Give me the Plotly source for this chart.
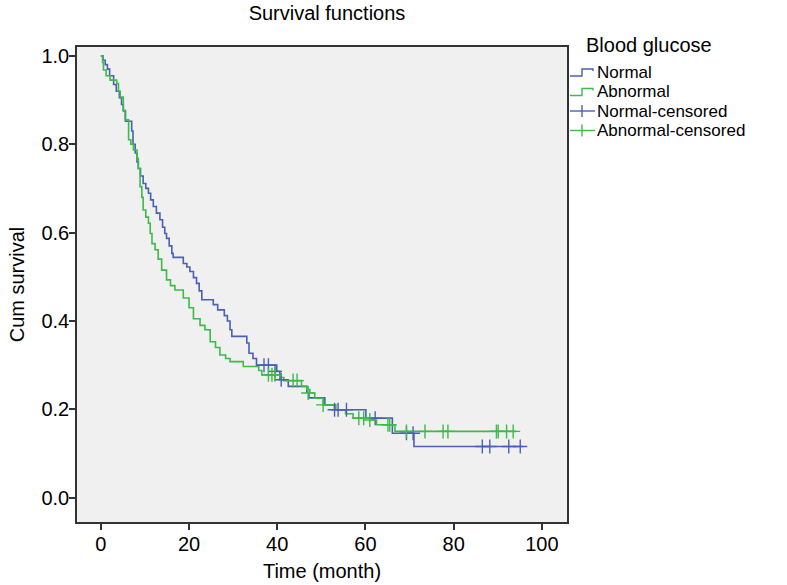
import plotly.graph_objects as go

# Kaplan-Meier step points (time in months, cumulative survival)
normal_t = [0, 0.5, 1, 1.5, 2, 2.9, 3.5, 4.2, 4.7, 5.1, 5.6, 7.0, 7.3, 7.8, 8.2, 8.5, 9.0, 9.6,
            10.2, 10.8, 11.3, 11.9, 12.6, 13.4, 14.0, 14.5, 14.9, 15.5, 16.1, 16.4, 18.7, 19.5,
            20.2, 21.0, 21.7, 22.3, 22.9, 25.5, 26.5, 28.0, 28.7, 29.3, 29.7, 33.1, 33.6, 34.5,
            35.3, 39.9, 40.6, 42.5, 46.7, 47.2, 50.8, 53.0, 60.1, 66.1, 71.0, 95.7]
normal_s = [1.0, 0.99, 0.98, 0.97, 0.955, 0.935, 0.92, 0.905, 0.89, 0.875, 0.852, 0.83, 0.80,
            0.78, 0.76, 0.745, 0.728, 0.711, 0.70, 0.689, 0.674, 0.659, 0.644, 0.629, 0.612,
            0.598, 0.587, 0.570, 0.553, 0.544, 0.530, 0.522, 0.512, 0.498, 0.485, 0.468, 0.448,
            0.437, 0.425, 0.412, 0.400, 0.38, 0.365, 0.35, 0.327, 0.315, 0.30, 0.286, 0.267,
            0.252, 0.238, 0.226, 0.21, 0.199, 0.18, 0.146, 0.116, 0.116]

abnormal_t = [0, 0.4, 0.6, 1.2, 2.1, 3.6, 4.0, 4.4, 5.1, 5.5, 6.3, 6.8, 7.4, 8.2, 8.5, 8.9, 9.3,
              9.6, 10.2, 10.8, 11.2, 11.6, 12.3, 13.0, 13.8, 14.9, 15.8, 16.8, 18.7, 20.0, 21.0,
              22.5, 23.6, 24.8, 26.0, 27.0, 28.3, 29.3, 32.3, 35.8, 36.5, 40.6, 41.5, 45.5, 46.7,
              47.4, 48.5, 50.4, 53.3, 55.5, 57.2, 61.0, 62.5, 66.7, 94.2]
abnormal_s = [1.0, 0.985, 0.968, 0.955, 0.945, 0.937, 0.92, 0.907, 0.877, 0.855, 0.81, 0.80,
              0.787, 0.768, 0.745, 0.704, 0.68, 0.651, 0.635, 0.621, 0.598, 0.575, 0.561, 0.54,
              0.515, 0.493, 0.48, 0.47, 0.452, 0.43, 0.405, 0.39, 0.38, 0.353, 0.34, 0.323,
              0.315, 0.308, 0.297, 0.288, 0.278, 0.272, 0.265, 0.252, 0.245, 0.237, 0.225, 0.21,
              0.199, 0.19, 0.18, 0.176, 0.165, 0.15, 0.15]

# Censored observations
normal_cens_t = [37.0, 38.0, 39.5, 40.9, 53.0, 53.8, 55.7, 62.2, 69.3, 70.8, 86.5, 88.2, 92.5, 95.1]
normal_cens_s = [0.30, 0.30, 0.286, 0.267, 0.199, 0.199, 0.199, 0.18, 0.146, 0.146, 0.116, 0.116,
                 0.116, 0.116]
abnormal_cens_t = [38.0, 38.8, 39.5, 43.6, 44.5, 47.0, 50.4, 58.5, 59.6, 61.0, 65.1, 65.5, 69.3,
                   73.5, 77.6, 78.7, 89.7, 90.1, 92.0, 93.5]
abnormal_cens_s = [0.278, 0.278, 0.278, 0.265, 0.265, 0.237, 0.21, 0.18, 0.18, 0.176, 0.165,
                   0.165, 0.15, 0.15, 0.15, 0.15, 0.15, 0.15, 0.15, 0.15]

x_ticks = [0, 20, 40, 60, 80, 100]
y_ticks = [0.0, 0.2, 0.4, 0.6, 0.8, 1.0]

legend_title = "Blood glucose"
legend_labels = ["Normal", "Abnormal", "Normal-censored", "Abnormal-censored"]

BLUE = "#4a60b6"
GREEN = "#3dbb48"
FONT = "Liberation Sans, Arial, sans-serif"

W, H = 787, 585
ML, MR, MT, MB = 77, 220, 47, 63
PW, PH = W - ML - MR, H - MT - MB


def px(xp):
    return (xp - ML) / PW


def py(yp):
    return (H - MB - yp) / PH


fig = go.Figure()
fig.add_trace(go.Scatter(x=normal_t, y=normal_s, mode="lines", line_shape="hv",
                         line=dict(color=BLUE, width=1.6), name=legend_labels[0]))
fig.add_trace(go.Scatter(x=abnormal_t, y=abnormal_s, mode="lines", line_shape="hv",
                         line=dict(color=GREEN, width=1.6), name=legend_labels[1]))
fig.add_trace(go.Scatter(x=normal_cens_t, y=normal_cens_s, mode="markers",
                         marker=dict(symbol="cross-thin", size=10, line=dict(color=BLUE, width=1.4)),
                         name=legend_labels[2]))
fig.add_trace(go.Scatter(x=abnormal_cens_t, y=abnormal_cens_s, mode="markers",
                         marker=dict(symbol="cross-thin", size=10, line=dict(color=GREEN, width=1.4)),
                         name=legend_labels[3]))

axis_common = dict(showline=True, linecolor="#333333", linewidth=1.5, mirror=True,
                   ticks="outside", ticklen=6, tickcolor="#333333", tickwidth=1.5,
                   showgrid=False, zeroline=False, automargin=False,
                   tickfont=dict(family=FONT, size=20, color="black"))

# Manual legend (title, entries and icons)
annotations = [dict(text=legend_title, xref="paper", yref="paper", x=px(584), y=py(45),
                    xanchor="left", yanchor="middle", showarrow=False,
                    font=dict(family=FONT, size=20, color="black"))]
shapes = []
entry_y = [72, 91.5, 111, 130.5]
colors = [BLUE, GREEN, BLUE, GREEN]
for i, (lab, yy, col) in enumerate(zip(legend_labels, entry_y, colors)):
    annotations.append(dict(text=lab, xref="paper", yref="paper", x=px(596), y=py(yy),
                            xanchor="left", yanchor="middle", showarrow=False, borderpad=0,
                            font=dict(family=FONT, size=17, color="black")))
    if i < 2:
        path = (f"M {px(570)},{py(yy + 4)} L {px(582)},{py(yy + 4)} L {px(582)},{py(yy - 3)} "
                f"L {px(593)},{py(yy - 3)} L {px(593)},{py(yy - 1)}")
        shapes.append(dict(type="path", xref="paper", yref="paper", path=path,
                           line=dict(color=col, width=1.4)))
    else:
        shapes.append(dict(type="line", xref="paper", yref="paper", x0=px(570), x1=px(595),
                           y0=py(yy), y1=py(yy), line=dict(color=col, width=1.4)))
        shapes.append(dict(type="line", xref="paper", yref="paper", x0=px(582), x1=px(582),
                           y0=py(yy - 6), y1=py(yy + 6), line=dict(color=col, width=1.4)))

fig.update_layout(
    width=W, height=H,
    margin=dict(l=ML, r=MR, t=MT, b=MB),
    paper_bgcolor="white", plot_bgcolor="#f0f0f0",
    font=dict(family=FONT, color="black"),
    showlegend=False,
    title=dict(text="Survival functions", x=327 / W, xanchor="center", xref="container",
               y=1 - 13 / H, yanchor="middle", font=dict(family=FONT, size=20, color="black")),
    xaxis=dict(range=[-5.4, 105.7], tickvals=x_ticks, ticktext=[str(v) for v in x_ticks],
               ticklabelstandoff=-3,
               title=dict(text="Time (month)", font=dict(family=FONT, size=20), standoff=10),
               **axis_common),
    yaxis=dict(range=[-0.055, 1.02], tickvals=y_ticks, ticktext=[f"{v:.1f}" for v in y_ticks],
               ticklabelstandoff=-4,
               title=dict(text="Cum survival", font=dict(family=FONT, size=20), standoff=11),
               **axis_common),
    annotations=annotations,
    shapes=shapes,
)

fig.write_html("out.html", config={"displayModeBar": False},
               post_script="document.body.style.margin='0px';")
